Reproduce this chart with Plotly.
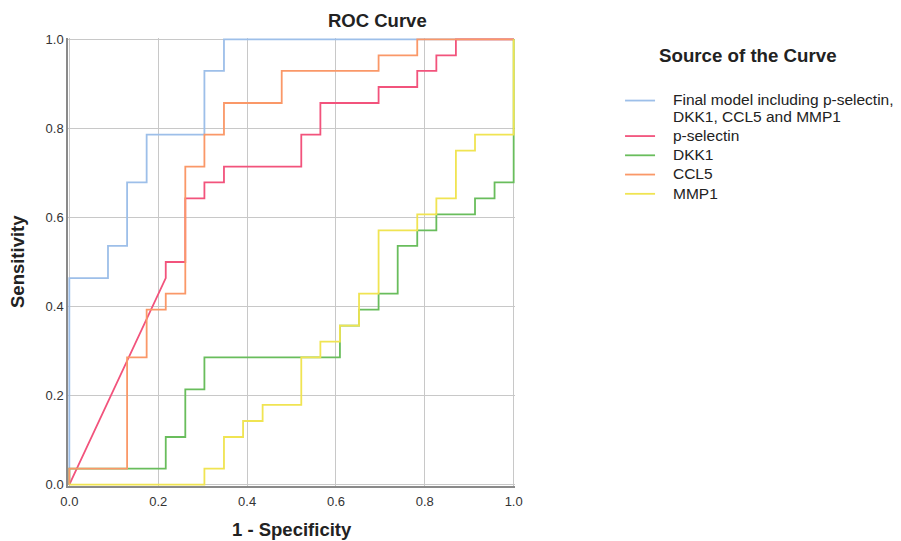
import plotly.graph_objects as go

# ROC coordinates (1 - specificity, sensitivity)
final_fpr = [0, 0, .087, .087, .130, .130, .174, .174, .304, .304, .348, .348, 1]
final_tpr = [0, .464, .464, .536, .536, .679, .679, .786, .786, .929, .929, 1, 1]

psel_fpr = [0, .217, .217, .261, .261, .304, .304, .348, .348, .522, .522, .565, .565,
            .696, .696, .783, .783, .826, .826, .870, .870, 1]
psel_tpr = [0, .464, .500, .500, .643, .643, .679, .679, .714, .714, .786, .786, .857,
            .857, .893, .893, .929, .929, .964, .964, 1, 1]

dkk1_fpr = [0, 0, .217, .217, .261, .261, .304, .304, .609, .609, .652, .652, .696, .696,
            .739, .739, .783, .783, .826, .826, .913, .913, .957, .957, 1, 1]
dkk1_tpr = [0, .036, .036, .107, .107, .214, .214, .286, .286, .357, .357, .393, .393, .429,
            .429, .536, .536, .571, .571, .607, .607, .643, .643, .679, .679, 1]

ccl5_fpr = [0, 0, .130, .130, .174, .174, .217, .217, .261, .261, .304, .304, .348, .348,
            .478, .478, .696, .696, .783, .783, 1]
ccl5_tpr = [0, .036, .036, .286, .286, .393, .393, .429, .429, .714, .714, .786, .786, .857,
            .857, .929, .929, .964, .964, 1, 1]

mmp1_fpr = [0, .304, .304, .348, .348, .391, .391, .435, .435, .522, .522, .565, .565, .609,
            .609, .652, .652, .696, .696, .783, .783, .826, .826, .870, .870, .913, .913, 1, 1]
mmp1_tpr = [0, 0, .036, .036, .107, .107, .143, .143, .179, .179, .286, .286, .321, .321,
            .357, .357, .429, .429, .571, .571, .607, .607, .643, .643, .750, .750, .786, .786, 1]

series_names = [["Final model including p-selectin,", "DKK1, CCL5 and MMP1"],
                ["p-selectin"], ["DKK1"], ["CCL5"], ["MMP1"]]
series_colors = ["#9dbfe9", "#f2537c", "#69bd5c", "#fa9868", "#f0e452"]
series_x = [final_fpr, psel_fpr, dkk1_fpr, ccl5_fpr, mmp1_fpr]
series_y = [final_tpr, psel_tpr, dkk1_tpr, ccl5_tpr, mmp1_tpr]

tick_vals = [0, 0.2, 0.4, 0.6, 0.8, 1.0]
tick_text = ["0.0", "0.2", "0.4", "0.6", "0.8", "1.0"]

FONT = "Arial, Liberation Sans, sans-serif"
PAD = "\u00a0\u00a0\u00a0"


def legend_label(lines):
    return "<br>".join("<span style='font-size:15.5px'>%s%s</span>" % (PAD, s) for s in lines)


fig = go.Figure()
for name, color, xs, ys in zip(series_names, series_colors, series_x, series_y):
    fig.add_trace(go.Scatter(x=xs, y=ys, mode="lines", name=legend_label(name),
                             line=dict(color=color, width=1.8)))

axis_common = dict(
    range=[-0.003, 1.003], tickmode="array", tickvals=tick_vals, ticktext=tick_text,
    showgrid=True, gridcolor="#c8c8c8", gridwidth=1, zeroline=False,
    showline=True, linecolor="#8a8a8a", linewidth=1.5,
    ticks="", tickfont=dict(family=FONT, size=13, color="#333333"),
)

fig.update_layout(
    width=901, height=541,
    margin=dict(l=68, r=386, t=38, b=55, autoexpand=False),
    paper_bgcolor="white", plot_bgcolor="white",
    font=dict(family=FONT, color="#222222"),
    xaxis=dict(axis_common, ticklabelstandoff=3),
    yaxis=axis_common,
    showlegend=True,
    legend=dict(
        x=1.235, y=0.893, xanchor="left", yanchor="top",
        font=dict(family=FONT, size=12.5, color="#222222"),
        itemwidth=30, valign="top", tracegroupgap=0,
        bgcolor="rgba(0,0,0,0)",
    ),
    annotations=[
        dict(text="<b>ROC Curve</b>", x=(377 - 68) / 447, y=(486 - 21) / 448,
             xref="paper", yref="paper", showarrow=False, xanchor="center", yanchor="middle",
             font=dict(family=FONT, size=18.5, color="#222222")),
        dict(text="<b>Source of the Curve</b>", x=(748 - 68) / 447, y=(486 - 56) / 448,
             xref="paper", yref="paper", showarrow=False, xanchor="center", yanchor="middle",
             font=dict(family=FONT, size=18.7, color="#222222")),
        dict(text="<b>1 - Specificity</b>", x=0.5, y=(486 - 529) / 448,
             xref="paper", yref="paper", showarrow=False, xanchor="center", yanchor="middle",
             font=dict(family=FONT, size=18.5, color="#222222")),
        dict(text="<b>Sensitivity</b>", x=(17 - 68) / 447, y=0.5,
             xref="paper", yref="paper", showarrow=False, textangle=-90,
             xanchor="center", yanchor="middle",
             font=dict(family=FONT, size=18.5, color="#222222")),
    ],
)

fig.write_html("out.html")
